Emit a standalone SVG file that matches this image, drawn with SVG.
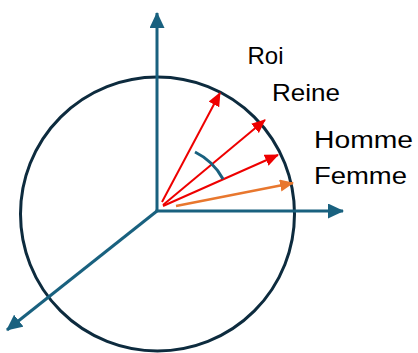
<svg xmlns="http://www.w3.org/2000/svg" width="418" height="353" viewBox="0 0 418 353">
<style>
.axis{stroke:#19617f;stroke-width:3;fill:none}
.red{stroke:#ee0000;stroke-width:2;fill:none}
.orange{stroke:#e8772e;stroke-width:2.5;fill:none}
.lbl{font-family:"Liberation Sans",Arial,sans-serif;font-size:24.5px;fill:#000}
</style>
<defs>
<marker id="ma" markerUnits="userSpaceOnUse" markerWidth="17" markerHeight="16" refX="15" refY="7.5" orient="auto"><path d="M0,0 L16,7.5 L0,15 z" fill="#19617f"/></marker>
<marker id="mr" markerUnits="userSpaceOnUse" markerWidth="15" markerHeight="13" refX="13" refY="6" orient="auto"><path d="M0,0 L14,6 L0,12 z" fill="#ee0000"/></marker>
<marker id="mo" markerUnits="userSpaceOnUse" markerWidth="15" markerHeight="13" refX="13" refY="6" orient="auto"><path d="M0,0 L14,6 L0,12 z" fill="#e8772e"/></marker>
</defs>
<g id="sphere"><circle cx="157.5" cy="214" r="137" fill="none" stroke="#0d2b3e" stroke-width="3"/></g>
<g id="connectors">
<line class="axis" x1="157" y1="211" x2="157" y2="13" marker-end="url(#ma)"/>
<line class="axis" x1="155.5" y1="211" x2="343" y2="211" marker-end="url(#ma)"/>
<line class="axis" x1="157" y1="211" x2="7" y2="330" marker-end="url(#ma)"/>
<line class="red" x1="162" y1="202" x2="220" y2="93" marker-end="url(#mr)"/>
<line class="red" x1="163" y1="205" x2="265" y2="120" marker-end="url(#mr)"/>
<line class="red" x1="163" y1="206" x2="278" y2="155" marker-end="url(#mr)"/>
<line class="orange" x1="176" y1="206" x2="293" y2="183" marker-end="url(#mo)"/>
<path class="axis" d="M195,152 A64,64 0 0 1 223,179"/>
</g>
<g id="roi"><text class="lbl" x="247.5" y="64" textLength="36" lengthAdjust="spacingAndGlyphs">Roi</text></g>
<g id="reine"><text class="lbl" x="272" y="101" textLength="68" lengthAdjust="spacingAndGlyphs">Reine</text></g>
<g id="homme"><text class="lbl" x="314" y="148" textLength="99" lengthAdjust="spacingAndGlyphs">Homme</text></g>
<g id="femme"><text class="lbl" x="314" y="184" textLength="93" lengthAdjust="spacingAndGlyphs">Femme</text></g>
</svg>
